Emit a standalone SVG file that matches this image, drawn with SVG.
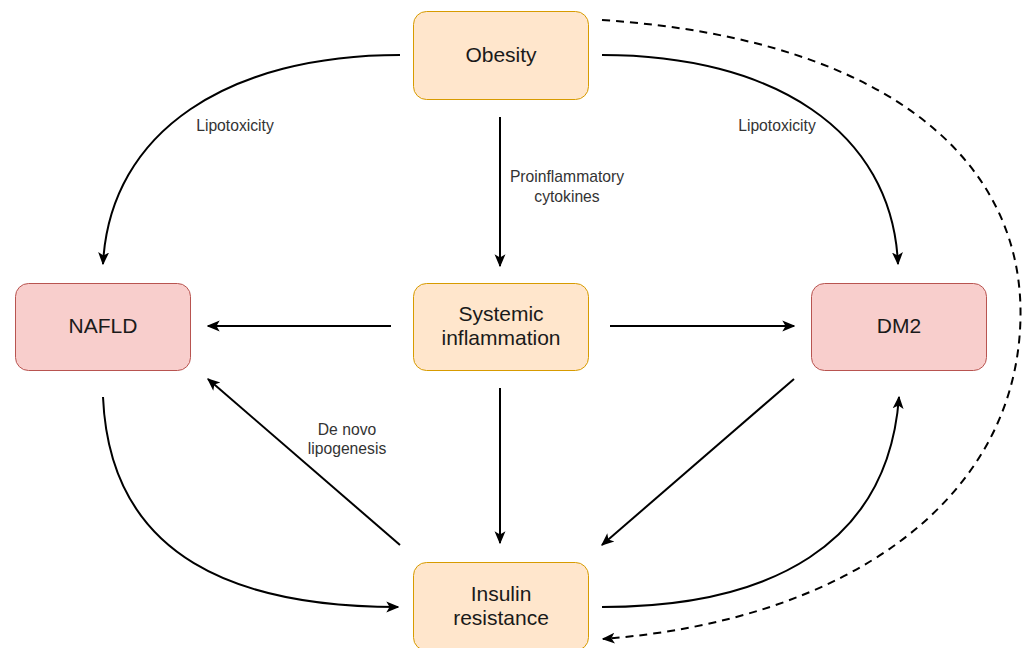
<svg xmlns="http://www.w3.org/2000/svg" width="1022" height="648" viewBox="0 0 1022 648">
<style>
.o{fill:#ffe6cc;stroke:#d79b00;stroke-width:1}
.r{fill:#f8cecc;stroke:#b85450;stroke-width:1}
.nt{font-family:"Liberation Sans",Arial,sans-serif;font-size:21px;fill:#1a1a1a;text-anchor:middle}
.lb{font-family:"Liberation Sans",Arial,sans-serif;font-size:15.7px;fill:#333;text-anchor:middle}
.c{fill:none;stroke:#000;stroke-width:2}
.d{fill:none;stroke:#000;stroke-width:2;stroke-dasharray:8 6}
</style>
<defs>
<marker id="ah" viewBox="0 0 10 10" refX="9" refY="5" markerWidth="13" markerHeight="13" markerUnits="userSpaceOnUse" orient="auto">
<path d="M0,0.8 L10,5 L0,9.2 L2.5,5 Z" fill="#000"/>
</marker>
</defs>
<rect width="1022" height="648" fill="#fff"/>
<g id="connectors">
<path class="c" d="M400,55 C230,55 110,130 103,264" marker-end="url(#ah)"/>
<path class="c" d="M602,55 C772,55 892,130 898,264" marker-end="url(#ah)"/>
<path class="d" d="M602,20 C900,40 1030,170 1020,330 C1010,500 850,620 603,639" marker-end="url(#ah)"/>
<path class="c" d="M500,117 L500,266" marker-end="url(#ah)"/>
<path class="c" d="M391,326 L208,326" marker-end="url(#ah)"/>
<path class="c" d="M610,326 L794,326" marker-end="url(#ah)"/>
<path class="c" d="M500,388 L500,543" marker-end="url(#ah)"/>
<path class="c" d="M794,379 L602,545" marker-end="url(#ah)"/>
<path class="c" d="M400,545 L208,379" marker-end="url(#ah)"/>
<path class="c" d="M103,397 C110,560 240,607 398,607" marker-end="url(#ah)"/>
<path class="c" d="M602,607 C770,607 888,545 899,397" marker-end="url(#ah)"/>
<text class="lb" x="235" y="131">Lipotoxicity</text>
<text class="lb" x="777" y="131">Lipotoxicity</text>
<text class="lb" x="567" y="182">Proinflammatory</text>
<text class="lb" x="567" y="202">cytokines</text>
<text class="lb" x="347" y="435">De novo</text>
<text class="lb" x="347" y="454">lipogenesis</text>
</g>
<g id="obesity"><rect class="o" x="413.5" y="11.5" width="175" height="88" rx="13"/><text class="nt" x="501" y="62">Obesity</text></g>
<g id="nafld"><rect class="r" x="15.5" y="283.5" width="175" height="87" rx="13"/><text class="nt" x="103" y="333">NAFLD</text></g>
<g id="systemic"><rect class="o" x="413.5" y="283.5" width="175" height="87" rx="13"/><text class="nt" x="501" y="321">Systemic</text><text class="nt" x="501" y="345">inflammation</text></g>
<g id="dm2"><rect class="r" x="811.5" y="283.5" width="175" height="87" rx="13"/><text class="nt" x="899" y="333">DM2</text></g>
<g id="insulin"><rect class="o" x="413.5" y="562.5" width="175" height="88" rx="13"/><text class="nt" x="501" y="601">Insulin</text><text class="nt" x="501" y="625">resistance</text></g>
</svg>
